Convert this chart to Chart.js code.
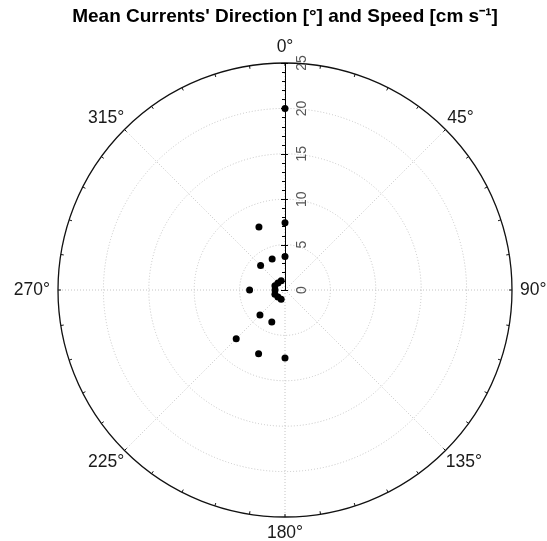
<!DOCTYPE html>
<html>
<head>
<meta charset="utf-8">
<script src="https://cdn.jsdelivr.net/npm/chart.js@4.4.0/dist/chart.umd.min.js"></script>
<style>
  html, body { margin: 0; padding: 0; background: #fff; }
  canvas { display: block; }
</style>
</head>
<body>
<canvas id="polar" width="547" height="541"></canvas>
<script>
// Direções (graus) e velocidades (cm/s)
const directions = [0, 0, 0, 337.5, 337.5, 315, 270, 225, 202.5, 225, 202.5, 180,
                    337.5, 315, 292.5, 270, 247.5, 225, 202.5];
const speeds = [20.0, 7.4, 3.7, 7.5, 3.7, 3.8, 3.9, 3.9, 3.8, 7.6, 7.6, 7.5,
                1.1, 1.1, 1.2, 1.1, 1.2, 1.1, 1.1];

const speedMax = 25;
const ringValues = [5, 10, 15, 20];
const radialTicks = [0, 5, 10, 15, 20, 25];
const spokeAngles = [0, 45, 90, 135, 180, 225, 270, 315];
const angleLabels = ['0°', '45°', '90°', '135°', '180°', '225°', '270°', '315°'];

const FONT = '"Liberation Sans", Arial, sans-serif';

// Converter polar -> cartesiano (0° no topo, sentido horário)
const points = directions.map((d, i) => {
  const a = d * Math.PI / 180;
  return { x: speeds[i] * Math.sin(a), y: speeds[i] * Math.cos(a) };
});

// Plugin que desenha a grade polar usando as escalas do gráfico
const polarGrid = {
  id: 'polarGrid',
  beforeDatasetsDraw(chart) {
    const { ctx, scales: { x, y } } = chart;
    const cx = x.getPixelForValue(0);
    const cy = y.getPixelForValue(0);
    const rx = v => x.getPixelForValue(v) - cx;
    const ry = v => cy - y.getPixelForValue(v);
    const R = rx(speedMax);

    ctx.save();
    // círculos pontilhados
    ctx.strokeStyle = '#c4c4c4';
    ctx.lineWidth = 1;
    ctx.setLineDash([1, 2]);
    ringValues.forEach(v => {
      ctx.beginPath();
      ctx.ellipse(cx, cy, rx(v), ry(v), 0, 0, Math.PI * 2);
      ctx.stroke();
    });
    // raios
    spokeAngles.forEach(d => {
      const a = d * Math.PI / 180;
      ctx.beginPath();
      ctx.moveTo(cx, cy);
      ctx.lineTo(cx + rx(speedMax) * Math.sin(a), cy - ry(speedMax) * Math.cos(a));
      ctx.stroke();
    });
    ctx.setLineDash([]);

    // círculo externo
    ctx.strokeStyle = '#111';
    ctx.lineWidth = 1.3;
    ctx.beginPath();
    ctx.ellipse(cx, cy, rx(speedMax), ry(speedMax), 0, 0, Math.PI * 2);
    ctx.stroke();
    ctx.lineWidth = 1;
    // marcas no círculo externo a cada 9°
    for (let d = 0; d < 360; d += 9) {
      const a = d * Math.PI / 180;
      const s = Math.sin(a), c = Math.cos(a);
      ctx.beginPath();
      ctx.moveTo(cx + R * s, cy - R * c);
      ctx.lineTo(cx + (R - 3) * s, cy - (R - 3) * c);
      ctx.stroke();
    }

    // eixo radial
    ctx.strokeStyle = '#000';
    ctx.beginPath();
    ctx.moveTo(cx + 0.5, cy);
    ctx.lineTo(cx + 0.5, cy - ry(speedMax));
    ctx.stroke();
    for (let v = 0; v <= speedMax; v++) {
      const py = Math.round(cy - ry(v)) + 0.5;
      ctx.beginPath();
      ctx.moveTo(cx - (v % 5 === 0 ? 4 : 3), py);
      ctx.lineTo(cx + (v % 5 === 0 ? 3 : 0.5), py);
      ctx.stroke();
    }

    // rótulos do eixo radial (rotacionados)
    ctx.fillStyle = '#555';
    ctx.font = '14px ' + FONT;
    ctx.textAlign = 'center';
    ctx.textBaseline = 'middle';
    radialTicks.forEach(v => {
      ctx.save();
      ctx.translate(cx + 17, cy - ry(v));
      ctx.rotate(-Math.PI / 2);
      ctx.fillText(String(v), 0, 0);
      ctx.restore();
    });

    // rótulos de direção
    ctx.fillStyle = '#1a1a1a';
    ctx.font = '17.5px ' + FONT;
    spokeAngles.forEach((d, i) => {
      const a = d * Math.PI / 180;
      const s = Math.sin(a), c = Math.cos(a);
      const w = ctx.measureText(angleLabels[i]).width;
      const px = cx + (rx(speedMax) + 8) * s + s * w / 2;
      const py = cy - (ry(speedMax) + 8) * c - c * 8;
      ctx.fillText(angleLabels[i], px, py);
    });
    ctx.restore();
  }
};

const chart = new Chart(document.getElementById('polar'), {
  type: 'scatter',
  data: {
    datasets: [{
      data: points,
      backgroundColor: '#000',
      borderWidth: 0,
      pointRadius: 3.5,
      pointHoverRadius: 3.5
    }]
  },
  options: {
    responsive: false,
    animation: false,
    devicePixelRatio: 1,
    layout: { padding: { left: 58, right: 35, top: 0, bottom: 24 } },
    scales: {
      x: { display: false, min: -speedMax, max: speedMax },
      y: { display: false, min: -speedMax, max: speedMax }
    },
    plugins: {
      legend: { display: false },
      tooltip: { enabled: false },
      title: {
        display: true,
        text: "Mean Currents' Direction [°] and Speed [cm s⁻¹]",
        color: '#000',
        font: { family: FONT, size: 19, weight: 'bold', lineHeight: 1.2 },
        padding: { top: 5, bottom: 63 - 5 - 19 * 1.2 }
      }
    }
  },
  plugins: [polarGrid]
});
</script>
</body>
</html>
